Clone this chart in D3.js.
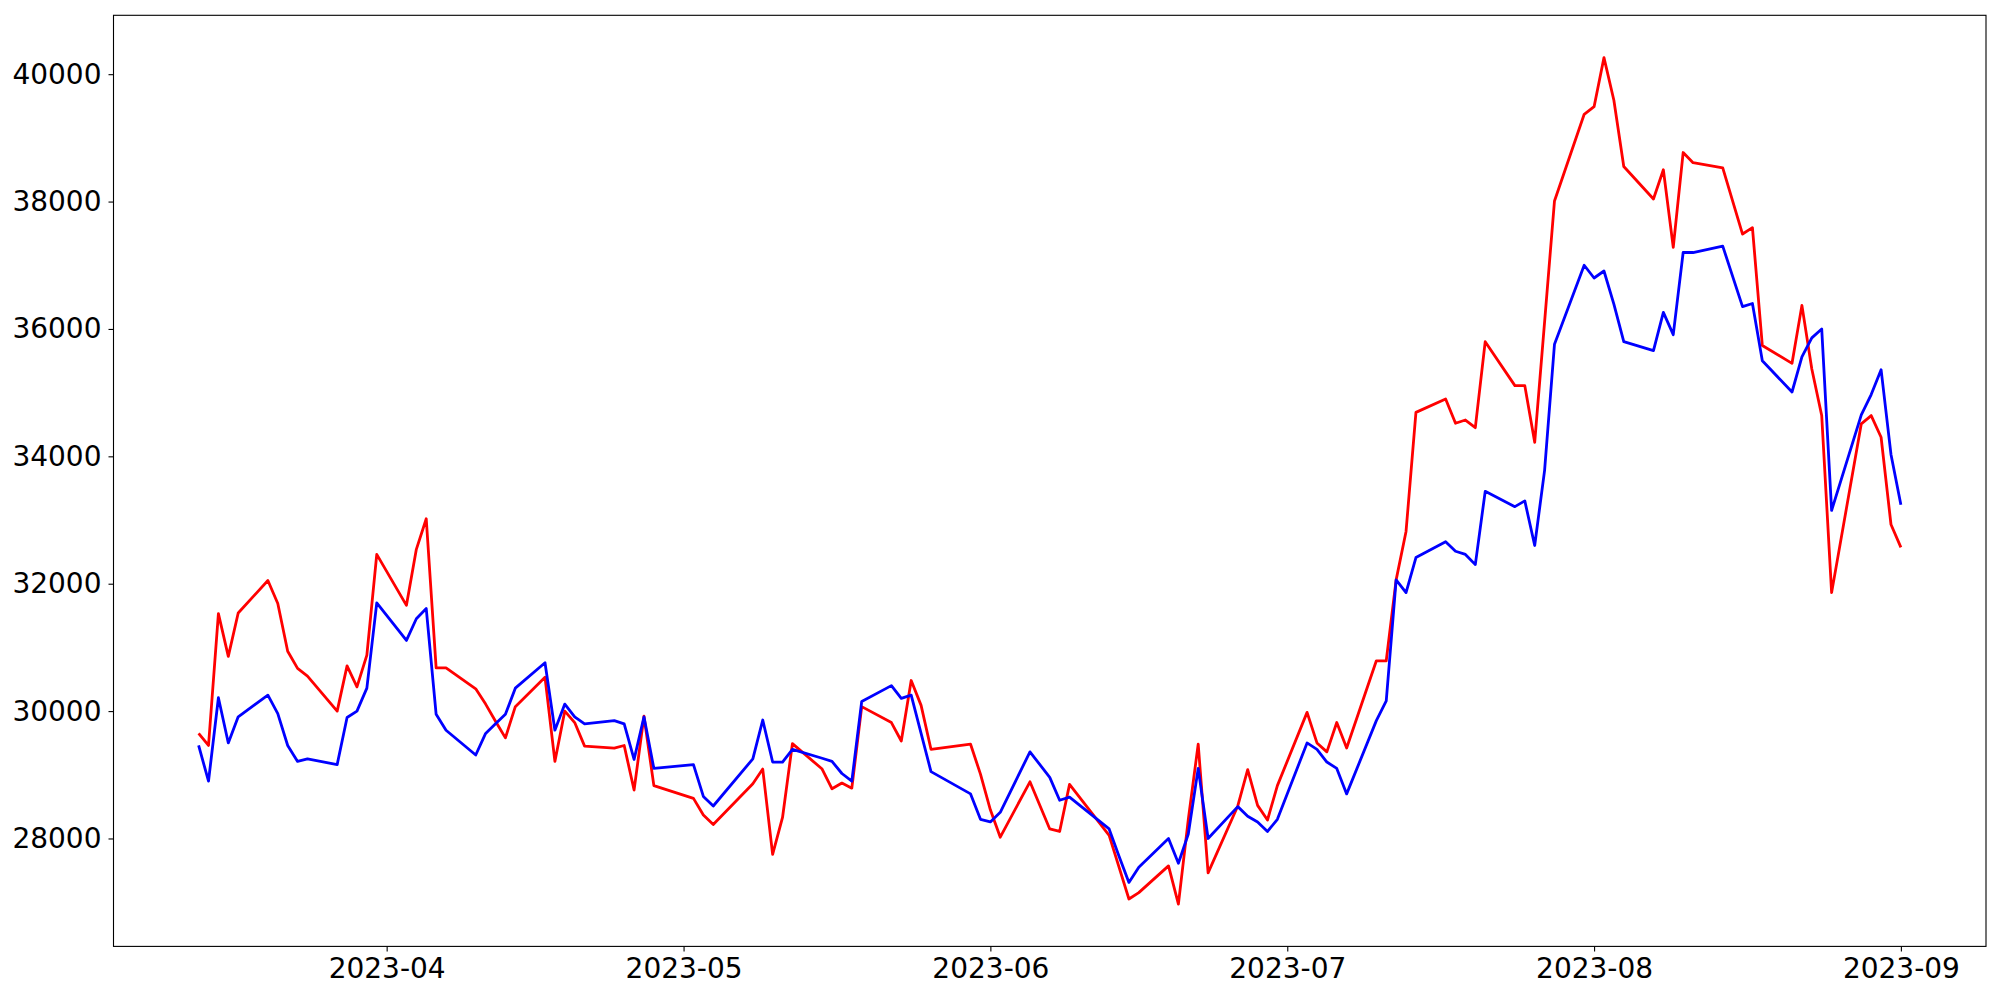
<!DOCTYPE html>
<html>
<head>
<meta charset="utf-8">
<script src="https://cdn.jsdelivr.net/npm/d3@7"></script>
<style>
html,body{margin:0;padding:0;background:#fff;}
svg{display:block;}
.tick text{font-family:"DejaVu Sans",sans-serif;font-size:28px;fill:#000;}
</style>
</head>
<body>
<svg id="chart" width="2000" height="1000"></svg>
<script>
const dates = [
"2023-03-13","2023-03-14","2023-03-15","2023-03-16","2023-03-17",
"2023-03-20","2023-03-21","2023-03-22","2023-03-23","2023-03-24",
"2023-03-27","2023-03-28","2023-03-29","2023-03-30","2023-03-31",
"2023-04-03","2023-04-04","2023-04-05","2023-04-06","2023-04-07",
"2023-04-10","2023-04-11","2023-04-12","2023-04-13","2023-04-14",
"2023-04-17","2023-04-18","2023-04-19","2023-04-20","2023-04-21",
"2023-04-24","2023-04-25","2023-04-26","2023-04-27","2023-04-28",
"2023-05-02","2023-05-03","2023-05-04",
"2023-05-08","2023-05-09","2023-05-10","2023-05-11","2023-05-12",
"2023-05-15","2023-05-16","2023-05-17","2023-05-18","2023-05-19",
"2023-05-22","2023-05-23","2023-05-24","2023-05-25","2023-05-26",
"2023-05-30","2023-05-31","2023-06-01","2023-06-02",
"2023-06-05","2023-06-07","2023-06-08","2023-06-09",
"2023-06-13","2023-06-14","2023-06-15","2023-06-16",
"2023-06-19","2023-06-20","2023-06-21","2023-06-22","2023-06-23",
"2023-06-26","2023-06-27","2023-06-28","2023-06-29","2023-06-30",
"2023-07-03","2023-07-04","2023-07-05","2023-07-06","2023-07-07",
"2023-07-10","2023-07-11","2023-07-12","2023-07-13","2023-07-14",
"2023-07-17","2023-07-18","2023-07-19","2023-07-20","2023-07-21",
"2023-07-24","2023-07-25","2023-07-26","2023-07-27","2023-07-28",
"2023-07-31","2023-08-01","2023-08-02","2023-08-03","2023-08-04",
"2023-08-07","2023-08-08","2023-08-09","2023-08-10","2023-08-11",
"2023-08-14","2023-08-16","2023-08-17","2023-08-18",
"2023-08-21","2023-08-22","2023-08-23","2023-08-24","2023-08-25",
"2023-08-28","2023-08-29","2023-08-30","2023-08-31","2023-09-01"
];

const redSeries = [
29650,29460,31530,30860,31540,
32050,31690,30940,30670,30550,
30000,30710,30380,30880,32460,
31660,32540,33020,30680,30680,
30350,30110,29840,29580,30070,
30530,29210,30000,29820,29450,
29420,29460,28760,29920,28830,
28630,28370,28220,
28860,29090,27750,28330,29490,
29090,28780,28870,28790,30070,
29820,29530,30480,30090,29400,
29480,29010,28450,28020,
28890,28150,28110,28850,
28050,27550,27050,27150,
27570,26970,28300,29480,27460,
28510,29080,28520,28290,28830,
29980,29500,29360,29820,29420,
30790,30790,32060,32820,34690,
34900,34520,34570,34450,35800,
35110,35110,34220,36110,38010,
39370,39490,40260,39590,38550,
38040,38500,37280,38770,38610,
38530,37490,37590,35740,
35460,36370,35370,34640,31860,
34510,34640,34300,32930,32570
];

const blueSeries = [
29460,28900,30210,29500,29910,
30250,29960,29460,29210,29250,
29160,29900,30000,30360,31700,
31110,31450,31610,29950,29700,
29310,29650,29800,29950,30360,
30760,29700,30110,29910,29800,
29850,29800,29240,29910,29100,
29160,28660,28510,
29250,29860,29200,29200,29400,
29260,29210,29020,28900,30150,
30400,30200,30250,29650,29050,
28700,28300,28260,28410,
29360,28960,28600,28650,
28150,27720,27310,27550,
28000,27610,28070,29100,28000,
28500,28350,28260,28110,28300,
29500,29400,29200,29100,28700,
29850,30160,32060,31860,32410,
32660,32510,32460,32300,33450,
33210,33300,32600,33780,35760,
37000,36800,36910,36390,35800,
35660,36260,35910,37200,37200,
37300,36350,36400,35500,
35010,35560,35860,36000,33150,
34650,34970,35360,34030,33240
];

const yTicks = [28000,30000,32000,34000,36000,38000,40000];
const xTickLabelFormat = "%Y-%m";

const parse = d3.timeParse("%Y-%m-%d");
const red = dates.map((d,i)=>({date:parse(d), v:redSeries[i]}));
const blue = dates.map((d,i)=>({date:parse(d), v:blueSeries[i]}));

const L=113.5, R=1986, T=15.3, B=946.4;
const svg = d3.select("#chart");

// x domain with 5% margins (matplotlib style)
const [dmin,dmax] = d3.extent(red, d=>d.date);
const dspan = dmax - dmin;
const x = d3.scaleTime()
  .domain([new Date(+dmin - 0.05*dspan), new Date(+dmax + 0.05*dspan)])
  .range([L,R]);

const allV = redSeries.concat(blueSeries);
const vmin = d3.min(allV), vmax = d3.max(allV), vspan = vmax - vmin;
const y = d3.scaleLinear()
  .domain([vmin - 0.05*vspan, vmax + 0.05*vspan])
  .range([B,T]);

const line = d3.line().x(d=>x(d.date)).y(d=>y(d.v));

const g = svg.append("g");
g.append("path").datum(red).attr("d", line)
  .attr("fill","none").attr("stroke","#ff0000").attr("stroke-width",2.8)
  .attr("stroke-linejoin","round");
g.append("path").datum(blue).attr("d", line)
  .attr("fill","none").attr("stroke","#0000ff").attr("stroke-width",2.8)
  .attr("stroke-linejoin","round");

// frame
svg.append("rect").attr("x",L).attr("y",T).attr("width",R-L).attr("height",B-T)
  .attr("fill","none").attr("stroke","#000").attr("stroke-width",1.1);

const xAxis = d3.axisBottom(x)
  .ticks(d3.timeMonth.every(1))
  .tickFormat(d3.timeFormat(xTickLabelFormat))
  .tickSize(5).tickPadding(6.5);
const gx = svg.append("g").attr("transform",`translate(0,${B})`).call(xAxis);
gx.select(".domain").remove();
gx.selectAll(".tick line").attr("stroke","#000").attr("stroke-width",1.1);

const yAxis = d3.axisLeft(y).tickValues(yTicks).tickFormat(d3.format("d"))
  .tickSize(5).tickPadding(7);
const gy = svg.append("g").attr("transform",`translate(${L},0)`).call(yAxis);
gy.select(".domain").remove();
gy.selectAll(".tick line").attr("stroke","#000").attr("stroke-width",1.1);
</script>
</body>
</html>
